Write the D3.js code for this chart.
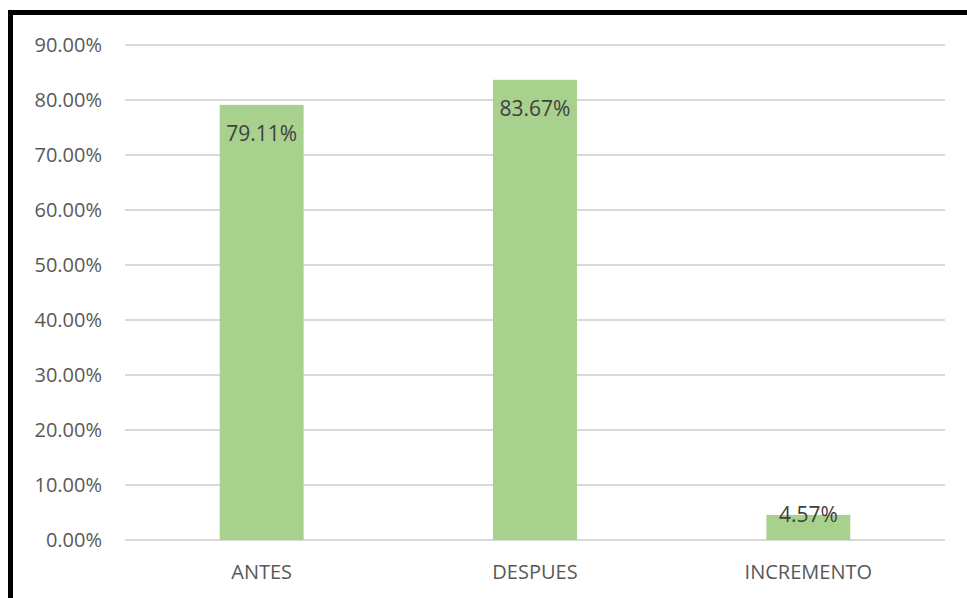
<!DOCTYPE html>
<html><head><meta charset="utf-8">
<script src="https://cdn.jsdelivr.net/npm/d3@7"></script>
<style>body{margin:0;background:#fff}svg{display:block}</style>
</head><body>
<script>
const categories = ["ANTES", "DESPUES", "INCREMENTO"];
const values = [79.11, 83.67, 4.57];
const valueLabels = ["79.11%", "83.67%", "4.57%"];
const tickValues = [0, 10, 20, 30, 40, 50, 60, 70, 80, 90];

(function () {
const W = 967, H = 598;
const svg = d3.select("body").append("svg").attr("width", W).attr("height", H);
svg.append("rect").attr("width", W).attr("height", H).attr("fill", "#fff");
const font = "Open Sans, Lato, sans-serif";

const mLeft = 125, mRight = 945, mTop = 45, mBottom = 540;
const y = d3.scaleLinear().domain([0, 90]).range([mBottom, mTop]);
const x = d3.scaleBand().domain(categories).range([mLeft, mRight]).padding(0);
const barW = x.bandwidth() * 0.307;

svg.append("g").selectAll("line").data(tickValues).join("line")
  .attr("x1", mLeft).attr("x2", mRight)
  .attr("y1", d => y(d)).attr("y2", d => y(d))
  .attr("stroke", "#d9d9d9").attr("stroke-width", 2);

svg.append("g").selectAll("text").data(tickValues).join("text")
  .attr("x", 102).attr("y", d => y(d)).attr("dy", "0.36em")
  .attr("text-anchor", "end")
  .attr("font-family", font).attr("font-size", 20).attr("fill", "#595959")
  .text(d => d.toFixed(2) + "%");

const data = categories.map((c, i) => ({c, v: values[i], l: valueLabels[i]}));
svg.append("g").selectAll("rect").data(data).join("rect")
  .attr("x", d => x(d.c) + x.bandwidth() / 2 - barW / 2)
  .attr("width", barW)
  .attr("y", d => y(d.v))
  .attr("height", d => y(0) - y(d.v))
  .attr("fill", "#a9d18e");

svg.append("g").selectAll("text").data(data).join("text")
  .attr("x", d => x(d.c) + x.bandwidth() / 2)
  .attr("y", d => (y(0) - y(d.v) > 40) ? y(d.v) + 36 : y(d.v) + 7)
  .attr("text-anchor", "middle")
  .attr("font-family", font).attr("font-size", 21).attr("fill", "#404040")
  .text(d => d.l);

svg.append("g").selectAll("text").data(categories).join("text")
  .attr("x", d => x(d) + x.bandwidth() / 2).attr("y", 579)
  .attr("text-anchor", "middle")
  .attr("font-family", font).attr("font-size", 20).attr("fill", "#595959")
  .text(d => d);

svg.append("rect").attr("x", 10.5).attr("y", 12.5).attr("width", 1200).attr("height", 1000)
  .attr("fill", "none").attr("stroke", "#000").attr("stroke-width", 5);
})();
</script>
</body></html>
